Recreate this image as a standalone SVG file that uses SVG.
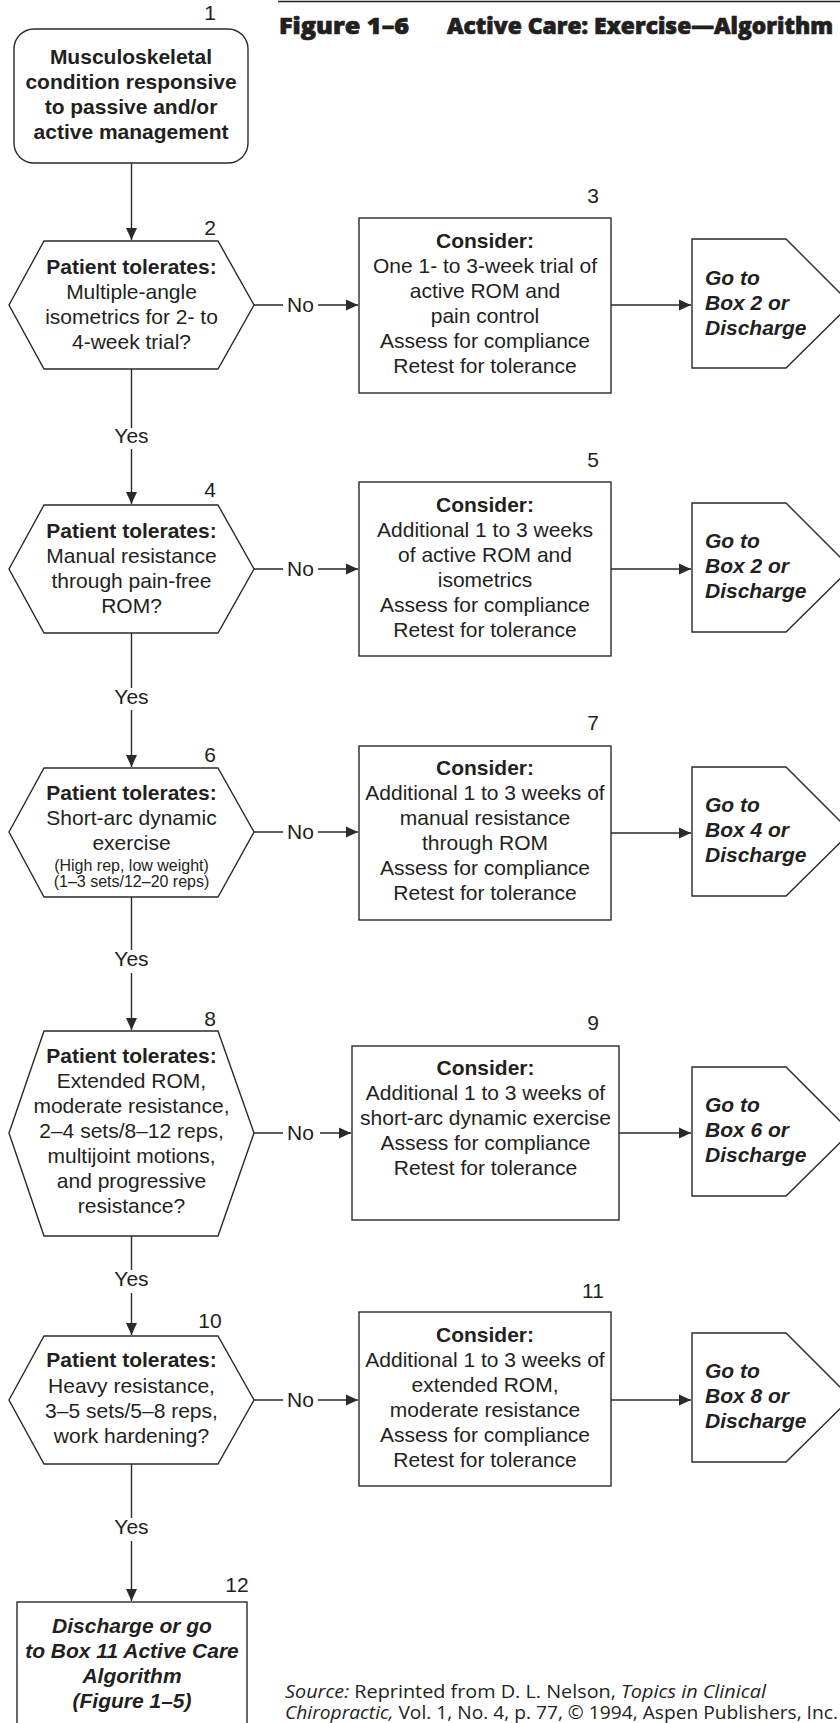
<svg xmlns="http://www.w3.org/2000/svg" width="840" height="1723" viewBox="0 0 840 1723">
<style>
.shape{fill:#fff;stroke:#2a2a2a;stroke-width:1.4}
.con{fill:none;stroke:#2a2a2a;stroke-width:1.4}
text{font-family:"Liberation Sans",Arial,sans-serif;fill:#231f20}
.t{font-size:21px;text-anchor:middle}
.b{font-weight:bold}
.bi{font-weight:bold;font-style:italic}
.num{font-size:21px;text-anchor:middle}
.go{font-size:21px;font-weight:bold;font-style:italic}
.sm{font-size:16px;text-anchor:middle}
.lab{font-size:21px;text-anchor:middle}
.title{font-family:"Open Sans","Noto Sans",sans-serif;font-weight:800;font-size:22.5px;stroke:#231f20;stroke-width:0.7}
.src{font-family:"Open Sans","Noto Sans",sans-serif;font-size:18px}
</style>
<defs>
<marker id="arr" markerUnits="userSpaceOnUse" markerWidth="13" markerHeight="12" refX="12" refY="6" orient="auto">
<path d="M0,0.5 L12,6 L0,11.5 z" fill="#2a2a2a"/>
</marker>
</defs>
<rect width="840" height="1723" fill="#fff"/>

<g id="header">
<line x1="278" y1="1.5" x2="840" y2="1.5" stroke="#231f20" stroke-width="1.6"/>
<text class="title" x="279" y="34" textLength="130" lengthAdjust="spacingAndGlyphs">Figure 1–6</text>
<text class="title" x="447" y="34" textLength="386" lengthAdjust="spacingAndGlyphs">Active Care: Exercise—Algorithm</text>
</g>

<g id="connectors">
<path class="con" d="M131.5 163 V240" marker-end="url(#arr)"/>
<path class="con" d="M131.5 369 V428 M131.5 449 V504" marker-end="url(#arr)"/>
<path class="con" d="M131.5 633 V688 M131.5 710 V767" marker-end="url(#arr)"/>
<path class="con" d="M131.5 897 V950 M131.5 973 V1030" marker-end="url(#arr)"/>
<path class="con" d="M131.5 1236 V1270 M131.5 1293 V1335" marker-end="url(#arr)"/>
<path class="con" d="M131.5 1464 V1518 M131.5 1541 V1601" marker-end="url(#arr)"/>
<path class="con" d="M254 305 H283 M318 305 H358" marker-end="url(#arr)"/>
<path class="con" d="M254 569 H283 M318 569 H358" marker-end="url(#arr)"/>
<path class="con" d="M254 832 H283 M318 832 H358" marker-end="url(#arr)"/>
<path class="con" d="M254 1133 H283 M320 1133 H351" marker-end="url(#arr)"/>
<path class="con" d="M254 1400 H283 M318 1400 H358" marker-end="url(#arr)"/>
<path class="con" d="M611 305 H691" marker-end="url(#arr)"/>
<path class="con" d="M611 569 H691" marker-end="url(#arr)"/>
<path class="con" d="M611 833 H691" marker-end="url(#arr)"/>
<path class="con" d="M619 1133 H691" marker-end="url(#arr)"/>
<path class="con" d="M611 1400 H691" marker-end="url(#arr)"/>
<text class="lab" x="131.5" y="443">Yes</text>
<text class="lab" x="131.5" y="704">Yes</text>
<text class="lab" x="131.5" y="966">Yes</text>
<text class="lab" x="131.5" y="1286">Yes</text>
<text class="lab" x="131.5" y="1534">Yes</text>
<text class="lab" x="300.5" y="312">No</text>
<text class="lab" x="300.5" y="576">No</text>
<text class="lab" x="300.5" y="839">No</text>
<text class="lab" x="300.5" y="1140">No</text>
<text class="lab" x="300.5" y="1407">No</text>
</g>

<g id="node1">
<rect class="shape" x="14" y="29" width="234" height="134" rx="20" ry="20"/>
<text class="num" x="210" y="20">1</text>
<text class="t b" x="131" y="64">Musculoskeletal</text>
<text class="t b" x="131" y="89">condition responsive</text>
<text class="t b" x="131" y="114">to passive and/or</text>
<text class="t b" x="131" y="139">active management</text>
</g>

<g id="node2">
<polygon class="shape" points="9,305 44,241 218,241 254,305 218,369 44,369"/>
<text class="num" x="210" y="235">2</text>
<text class="t b" x="131.5" y="274">Patient tolerates:</text>
<text class="t" x="131.5" y="299">Multiple-angle</text>
<text class="t" x="131.5" y="324">isometrics for 2- to</text>
<text class="t" x="131.5" y="349">4-week trial?</text>
</g>

<g id="node3">
<rect class="shape" x="359" y="218" width="252" height="175"/>
<text class="num" x="593" y="203">3</text>
<text class="t b" x="485" y="248">Consider:</text>
<text class="t" x="485" y="273">One 1- to 3-week trial of</text>
<text class="t" x="485" y="298">active ROM and</text>
<text class="t" x="485" y="323">pain control</text>
<text class="t" x="485" y="348">Assess for compliance</text>
<text class="t" x="485" y="373">Retest for tolerance</text>
</g>

<g id="goto3">
<polygon class="shape" points="692,239 786,239 851,304 786,368 692,368"/>
<text class="go" x="705" y="285">Go to</text>
<text class="go" x="705" y="310">Box 2 or</text>
<text class="go" x="705" y="335">Discharge</text>
</g>

<g id="node4">
<polygon class="shape" points="9,569 44,505 218,505 254,569 218,633 44,633"/>
<text class="num" x="210" y="497">4</text>
<text class="t b" x="131.5" y="538">Patient tolerates:</text>
<text class="t" x="131.5" y="563">Manual resistance</text>
<text class="t" x="131.5" y="588">through pain-free</text>
<text class="t" x="131.5" y="613">ROM?</text>
</g>

<g id="node5">
<rect class="shape" x="359" y="482" width="252" height="174"/>
<text class="num" x="593" y="467">5</text>
<text class="t b" x="485" y="512">Consider:</text>
<text class="t" x="485" y="537">Additional 1 to 3 weeks</text>
<text class="t" x="485" y="562">of active ROM and</text>
<text class="t" x="485" y="587">isometrics</text>
<text class="t" x="485" y="612">Assess for compliance</text>
<text class="t" x="485" y="637">Retest for tolerance</text>
</g>

<g id="goto5">
<polygon class="shape" points="692,503 786,503 851,568 786,632 692,632"/>
<text class="go" x="705" y="548">Go to</text>
<text class="go" x="705" y="573">Box 2 or</text>
<text class="go" x="705" y="598">Discharge</text>
</g>

<g id="node6">
<polygon class="shape" points="9,832 44,768 218,768 254,832 218,897 44,897"/>
<text class="num" x="210" y="762">6</text>
<text class="t b" x="131.5" y="800">Patient tolerates:</text>
<text class="t" x="131.5" y="825">Short-arc dynamic</text>
<text class="t" x="131.5" y="850">exercise</text>
<text class="sm" x="131.5" y="871">(High rep, low weight)</text>
<text class="sm" x="131.5" y="887">(1–3 sets/12–20 reps)</text>
</g>

<g id="node7">
<rect class="shape" x="359" y="746" width="252" height="174"/>
<text class="num" x="593" y="730">7</text>
<text class="t b" x="485" y="775">Consider:</text>
<text class="t" x="485" y="800">Additional 1 to 3 weeks of</text>
<text class="t" x="485" y="825">manual resistance</text>
<text class="t" x="485" y="850">through ROM</text>
<text class="t" x="485" y="875">Assess for compliance</text>
<text class="t" x="485" y="900">Retest for tolerance</text>
</g>

<g id="goto7">
<polygon class="shape" points="692,767 786,767 851,832 786,896 692,896"/>
<text class="go" x="705" y="812">Go to</text>
<text class="go" x="705" y="837">Box 4 or</text>
<text class="go" x="705" y="862">Discharge</text>
</g>

<g id="node8">
<polygon class="shape" points="9,1133 44,1031 218,1031 254,1133 218,1236 44,1236"/>
<text class="num" x="210" y="1026">8</text>
<text class="t b" x="131.5" y="1063">Patient tolerates:</text>
<text class="t" x="131.5" y="1088">Extended ROM,</text>
<text class="t" x="131.5" y="1113">moderate resistance,</text>
<text class="t" x="131.5" y="1138">2–4 sets/8–12 reps,</text>
<text class="t" x="131.5" y="1163">multijoint motions,</text>
<text class="t" x="131.5" y="1188">and progressive</text>
<text class="t" x="131.5" y="1213">resistance?</text>
</g>

<g id="node9">
<rect class="shape" x="352" y="1046" width="267" height="174"/>
<text class="num" x="593" y="1030">9</text>
<text class="t b" x="485.5" y="1075">Consider:</text>
<text class="t" x="485.5" y="1100">Additional 1 to 3 weeks of</text>
<text class="t" x="485.5" y="1125">short-arc dynamic exercise</text>
<text class="t" x="485.5" y="1150">Assess for compliance</text>
<text class="t" x="485.5" y="1175">Retest for tolerance</text>
</g>

<g id="goto9">
<polygon class="shape" points="692,1067 786,1067 851,1132 786,1196 692,1196"/>
<text class="go" x="705" y="1112">Go to</text>
<text class="go" x="705" y="1137">Box 6 or</text>
<text class="go" x="705" y="1162">Discharge</text>
</g>

<g id="node10">
<polygon class="shape" points="9,1400 44,1336 218,1336 254,1400 218,1464 44,1464"/>
<text class="num" x="210" y="1328">10</text>
<text class="t b" x="131.5" y="1367">Patient tolerates:</text>
<text class="t" x="131.5" y="1393">Heavy resistance,</text>
<text class="t" x="131.5" y="1418">3–5 sets/5–8 reps,</text>
<text class="t" x="131.5" y="1443">work hardening?</text>
</g>

<g id="node11">
<rect class="shape" x="359" y="1312" width="252" height="174"/>
<text class="num" x="593" y="1298">11</text>
<text class="t b" x="485" y="1342">Consider:</text>
<text class="t" x="485" y="1367">Additional 1 to 3 weeks of</text>
<text class="t" x="485" y="1392">extended ROM,</text>
<text class="t" x="485" y="1417">moderate resistance</text>
<text class="t" x="485" y="1442">Assess for compliance</text>
<text class="t" x="485" y="1467">Retest for tolerance</text>
</g>

<g id="goto11">
<polygon class="shape" points="692,1333 786,1333 851,1398 786,1462 692,1462"/>
<text class="go" x="705" y="1378">Go to</text>
<text class="go" x="705" y="1403">Box 8 or</text>
<text class="go" x="705" y="1428">Discharge</text>
</g>

<g id="node12">
<rect class="shape" x="17" y="1602" width="230" height="140"/>
<text class="num" x="237" y="1592">12</text>
<text class="t bi" x="132" y="1633">Discharge or go</text>
<text class="t bi" x="132" y="1658">to Box 11 Active Care</text>
<text class="t bi" x="132" y="1683">Algorithm</text>
<text class="t bi" x="132" y="1708">(Figure 1–5)</text>
</g>

<g id="source">
<text class="src" x="285" y="1698" textLength="481" lengthAdjust="spacingAndGlyphs"><tspan font-style="italic">Source:</tspan> Reprinted from D. L. Nelson, <tspan font-style="italic">Topics in Clinical</tspan></text>
<text class="src" x="285" y="1719" textLength="553" lengthAdjust="spacingAndGlyphs"><tspan font-style="italic">Chiropractic,</tspan> Vol. 1, No. 4, p. 77, © 1994, Aspen Publishers, Inc.</text>
</g>
</svg>
